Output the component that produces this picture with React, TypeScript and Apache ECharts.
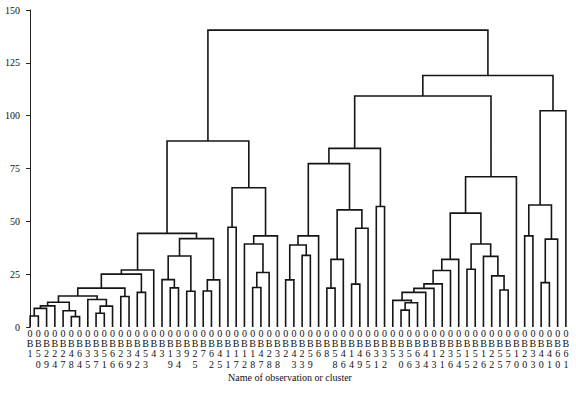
import React, { useEffect, useRef } from "react";
import * as echarts from "echarts";

// Leaf order (observation numbers, shown as 0 / B / digits)
const leafIds = [
  "1", "50", "29", "24", "27", "48", "64", "35", "37", "51", "66", "26", "39", "42", "53", "4",
  "3", "19", "34", "9", "25", "7", "62", "45", "11", "17", "12", "18", "47", "28", "38", "2",
  "43", "23", "59", "6", "8", "58", "46", "14", "49", "65", "31", "32", "5", "30", "56", "63",
  "44", "13", "21", "36", "54", "15", "52", "16", "22", "55", "57", "10", "20", "33", "40", "41",
  "60", "61",
];

// Merges: [left, right, height]; positive = leaf position (1-based), negative = earlier merge (-k)
const merges: [number, number, number][] = [
  [1, 2, 5.2], [-1, 3, 8.8], [-2, 4, 10], [6, 7, 4.9], [5, -4, 7.7],
  [-3, -5, 11.7], [9, 10, 6.5], [-7, 11, 9.9], [8, -8, 13], [-6, -9, 14.7],
  [12, 13, 14.4], [-10, -11, 18.4], [14, 15, 16.4], [-12, -13, 25], [-14, 16, 27],
  [18, 19, 18.5], [17, -16, 22.4], [20, 21, 16.9], [-17, -18, 33.6], [22, 23, 17],
  [-20, 24, 22.3], [-19, -21, 41.8], [-15, -22, 44.3], [25, 26, 47.2], [28, 29, 18.7],
  [-25, 30, 25.8], [27, -26, 39.3], [-27, 31, 43.1], [-24, -28, 65.9], [-23, -29, 88],
  [32, 33, 22.3], [34, 35, 33.9], [-31, -32, 38.8], [-33, 36, 43.1], [37, 38, 18.4],
  [-35, 39, 32], [40, 41, 20.3], [-37, 42, 46.7], [-36, -38, 55.4], [-34, -39, 77.3],
  [43, 44, 57], [-40, -41, 84.5], [46, 47, 8], [-43, 48, 11.5], [45, -44, 12.6],
  [-45, 49, 16.4], [-46, 50, 18.3], [-47, 51, 20.4], [-48, 52, 26.7], [-49, 53, 32],
  [54, 55, 27.3], [58, 59, 17.5], [57, -52, 24.2], [56, -53, 33.4], [-51, -54, 39.3],
  [-50, -55, 53.9], [-56, 60, 71.1], [-42, -57, 109.3], [61, 62, 43.1], [63, 64, 21],
  [-60, 65, 41.6], [-59, -61, 57.7], [-62, 66, 102.3], [-58, -63, 119], [-30, -64, 140.5],
];

const yTicks = [0, 25, 50, 75, 100, 125, 150];
const xTitle = "Name of observation or cluster";

function buildLinks() {
  const nodeX: number[] = [];
  const nodeH: number[] = [];
  const ref = (r: number): [number, number] =>
    r > 0 ? [r - 1, 0] : [nodeX[-r - 1], nodeH[-r - 1]];
  const out: number[][] = [];
  merges.forEach(([a, b, h]) => {
    const [xa, ha] = ref(a);
    const [xb, hb] = ref(b);
    out.push([xa, ha, xb, hb, h]);
    nodeX.push((xa + xb) / 2);
    nodeH.push(h);
  });
  return out;
}

const FONT = "Liberation Serif";

export default function App() {
  const ref = useRef<HTMLDivElement>(null);
  useEffect(() => {
    if (!ref.current) return;
    const chart = echarts.init(ref.current, null, { renderer: "svg" });
    const links = buildLinks();
    chart.setOption({
      animation: false,
      backgroundColor: "#ffffff",
      grid: { left: 26, right: 6, top: 10, bottom: 66, outerBoundsMode: "none" },
      xAxis: [
        { type: "value", min: -0.5, max: leafIds.length - 0.5, show: false, gridIndex: 0 },
        {
          type: "category",
          gridIndex: 0,
          position: "bottom",
          data: leafIds,
          boundaryGap: true,
          axisLine: { show: false },
          axisTick: { show: false },
          splitLine: { show: false },
          axisLabel: {
            interval: 0,
            margin: 1,
            fontFamily: FONT,
            fontSize: 10,
            lineHeight: 10.3,
            color: "#111",
            formatter: (v: string) => "0\nB\n" + v.split("").join("\n"),
          },
        },
      ],
      yAxis: {
        type: "value",
        min: yTicks[0],
        max: yTicks[yTicks.length - 1],
        interval: 25,
        axisLine: { show: true, lineStyle: { color: "#222", width: 1 } },
        axisTick: { show: true, length: 4, lineStyle: { color: "#222" } },
        splitLine: { show: false },
        axisLabel: { fontFamily: FONT, fontSize: 10, color: "#111", margin: 6 },
      },
      graphic: [
        {
          type: "text",
          x: 290,
          y: 377,
          style: {
            text: xTitle,
            font: `10px "${FONT}"`,
            fill: "#111",
            textAlign: "center",
            textVerticalAlign: "middle",
          },
        },
      ],
      series: [
        {
          type: "custom",
          xAxisIndex: 0,
          yAxisIndex: 0,
          data: links,
          encode: { x: [0, 2], y: [1, 3, 4] },
          clip: false,
          renderItem: (params: any, api: any) => {
            const p1 = api.coord([api.value(0), api.value(1)]);
            const p2 = api.coord([api.value(0), api.value(4)]);
            const p3 = api.coord([api.value(2), api.value(4)]);
            const p4 = api.coord([api.value(2), api.value(3)]);
            return {
              type: "polyline",
              shape: { points: [p1, p2, p3, p4] },
              style: { stroke: "#151515", lineWidth: 1.6, fill: null },
            };
          },
        },
      ],
    });
    return () => chart.dispose();
  }, []);
  return (
    <div
      ref={ref}
      style={{ position: "absolute", left: 0, top: 0, width: 576, height: 393, background: "#fff" }}
    />
  );
}
